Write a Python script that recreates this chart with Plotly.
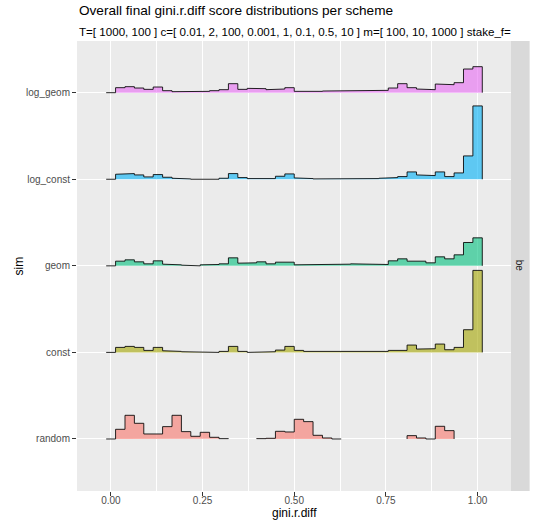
import plotly.graph_objects as go

# ---- data ----
sims = ["random", "const", "geom", "log_const", "log_geom"]
colors = ["#F8766D", "#A3A500", "#00BF7D", "#00B0F6", "#E76BF3"]
n_bins = 40
bin_width = 1.0 / 39  # bins centred on 0 .. 1

log_geom = [0, 15, 18, 14, 10, 17, 6, 3, 3, 4,
            4, 6, 9, 27, 10, 13, 12, 9, 11, 15,
            4, 2, 4, 5, 5, 6, 6, 6, 5, 7,
            14, 27, 15, 11, 9, 26, 24, 30, 71, 78]
log_const = [0, 15, 17, 13, 7, 14, 6, 3, 1, 0,
             0, 0, 3, 17, 5, 2, 2, 2, 9, 16,
             4, 2, 1, 0, 1, 1, 2, 2, 2, 3,
             5, 8, 22, 13, 11, 22, 8, 19, 70, 220]
geom = [0, 14, 18, 12, 6, 15, 5, 3, 2, 0,
        3, 4, 6, 24, 8, 9, 12, 6, 11, 11,
        3, 3, 5, 3, 3, 5, 6, 6, 6, 4,
        15, 21, 14, 14, 9, 27, 21, 33, 70, 84]
const = [0, 15, 18, 15, 6, 15, 5, 3, 2, 0,
         0, 0, 3, 18, 3, 0, 2, 2, 7, 18,
         6, 3, 2, 1, 1, 1, 1, 2, 3, 3,
         6, 6, 22, 10, 11, 25, 8, 15, 68, 246]
random_ = [0, 29, 71, 47, 15, 15, 37, 71, 22, 8,
           20, 5, 1, None, None, None, 1, 2, 23, 21,
           59, 52, 11, 3, 0, None, None, None, None, None,
           None, None, 10, 3, 0, 38, 25, None, None, None]

series = {"random": random_, "const": const, "geom": geom,
          "log_const": log_const, "log_geom": log_geom}
height_scale = 1.0 / 259.7  # count -> ridge units

x_ticks = [0, 0.25, 0.5, 0.75, 1.0]
x_ticktext = ["0.00", "0.25", "0.50", "0.75", "1.00"]

title = "Overall final gini.r.diff score distributions per scheme"
subtitle = "T=[ 1000, 100 ] c=[ 0.01, 2, 100, 0.001, 1, 0.1, 0.5, 10 ] m=[ 100, 10, 1000 ] stake_f="
strip_label = "be"


def hex_rgba(h, a):
    h = h.lstrip("#")
    return "rgba(%d,%d,%d,%s)" % (int(h[0:2], 16), int(h[2:4], 16), int(h[4:6], 16), a)


def segments(vals):
    segs, cur = [], []
    for i, v in enumerate(vals):
        if v is None:
            if cur:
                segs.append(cur)
                cur = []
        else:
            cur.append(i)
    if cur:
        segs.append(cur)
    return segs


fig = go.Figure()
# draw top ridge first so lower ridges are in front
for idx in range(len(sims) - 1, -1, -1):
    name = sims[idx]
    base = idx + 1
    vals = series[name]
    col = colors[idx]
    for seg in segments(vals):
        xs, ys = [], []
        first = seg[0]
        left = (first - 0.5) * bin_width
        xs.append(left)
        ys.append(base)
        for i in seg:
            l = (i - 0.5) * bin_width
            r = (i + 0.5) * bin_width
            h = base + vals[i] * height_scale
            xs += [l, r]
            ys += [h, h]
        right = (seg[-1] + 0.5) * bin_width
        xs.append(right)
        ys.append(base)
        fig.add_trace(go.Scatter(x=xs + [xs[0]], y=ys + [ys[0]], mode="lines",
                                 fill="toself", fillcolor=hex_rgba(col, 0.6),
                                 line=dict(width=0), hoverinfo="skip", showlegend=False))
        fig.add_trace(go.Scatter(x=xs, y=ys, mode="lines",
                                 line=dict(color="rgba(0,0,0,0.85)", width=1),
                                 hoverinfo="skip", showlegend=False))

font = "Liberation Sans, Arial, sans-serif"
fig.update_layout(
    width=541, height=526,
    margin=dict(l=77, r=30, t=41, b=35),
    paper_bgcolor="white", plot_bgcolor="#EBEBEB",
    font=dict(family=font),
    showlegend=False,
    xaxis=dict(range=[-0.0924, 1.0911], tickvals=x_ticks, ticktext=x_ticktext,
               ticks="outside", ticklen=4, tickcolor="#333333", tickwidth=1,
               tickfont=dict(size=10, color="#4D4D4D"), ticklabelstandoff=-4,
               showgrid=True, gridcolor="white", gridwidth=1.1, zeroline=False,
               showline=False,
               minor=dict(dtick=0.125, tick0=0, showgrid=True, gridcolor="white",
                          gridwidth=0.5, ticklen=0)),
    yaxis=dict(range=[0.399, 5.597], tickvals=[1, 2, 3, 4, 5], ticktext=sims,
               ticks="outside", ticklen=4, tickcolor="#333333", tickwidth=1,
               tickfont=dict(size=10, color="#4D4D4D"),
               showgrid=True, gridcolor="white", gridwidth=1.1, zeroline=False,
               showline=False),
    shapes=[dict(type="rect", xref="paper", yref="paper", x0=1.0, x1=1.0429,
                 y0=0, y1=1, fillcolor="#D9D9D9", line=dict(width=0), layer="below")],
    annotations=[
        dict(text=title, xref="paper", yref="paper", x=0, y=1.0667,
             xanchor="left", yanchor="middle", showarrow=False,
             font=dict(size=13.6, color="black")),
        dict(text=subtitle, xref="paper", yref="paper", x=0, y=1.0222,
             xanchor="left", yanchor="middle", showarrow=False,
             font=dict(size=11.6, color="black")),
        dict(text="gini.r.diff", xref="paper", yref="paper", x=0.5, y=-0.0489,
             xanchor="center", yanchor="middle", showarrow=False,
             font=dict(size=12, color="black")),
        dict(text="sim", xref="paper", yref="paper", x=-0.1327, y=0.5,
             xanchor="center", yanchor="middle", showarrow=False, textangle=-90,
             font=dict(size=12, color="black")),
        dict(text=strip_label, xref="paper", yref="paper", x=1.0214, y=0.5,
             xanchor="center", yanchor="middle", showarrow=False, textangle=90,
             font=dict(size=10, color="#1A1A1A")),
    ],
)

fig.write_html("out.html")
